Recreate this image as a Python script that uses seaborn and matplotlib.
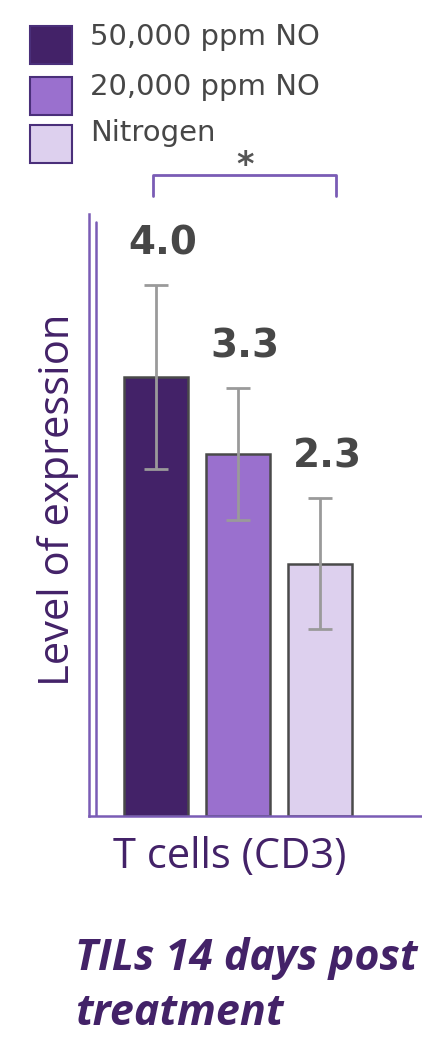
import matplotlib
matplotlib.use("Agg")
import matplotlib.pyplot as plt
from matplotlib.lines import Line2D
from matplotlib.patches import Rectangle
import seaborn as sns
import pandas as pd

# ---- data ----
groups = ["50,000 ppm NO", "20,000 ppm NO", "Nitrogen"]
category = ["T cells (CD3)"] * 3
values = [4.0, 3.3, 2.3]
errors = [0.84, 0.6, 0.6]
value_labels = ["4.0", "3.3", "2.3"]
colors = ["#432268", "#9a70ce", "#ddd0ee"]
title_text = "TILs 14 days post\ntreatment"
ylabel_text = "Level of expression"

df = pd.DataFrame({"cat": category, "group": groups, "value": values})

sns.set_style("white")
plt.rcParams["font.family"] = ["DejaVu Sans"]

W, H = 422, 1037
fig = plt.figure(figsize=(W / 100, H / 100), dpi=100)
ax = fig.add_axes([89 / W, (H - 816) / H, (W - 89) / W, (816 - 214) / H])

sns.barplot(data=df, x="cat", y="value", hue="group", hue_order=groups,
            palette=colors, saturation=1, errorbar=None, gap=0.23,
            edgecolor="#4a4a4a", linewidth=1.8, legend=False, ax=ax)

px_per_unit = 307.5
ax.set_xlim((89 - 238) / px_per_unit, (422 - 238) / px_per_unit)
ax.set_ylim(0, (816 - 214) / 109.75)

bars = sorted(ax.patches, key=lambda p: p.get_x())
for b, v, e, lab in zip(bars, values, errors, value_labels):
    cx = b.get_x() + b.get_width() / 2
    ax.errorbar(cx, v, yerr=e, fmt="none", ecolor="#9a9a9a", elinewidth=2,
                capsize=8.5, capthick=2, zorder=5)
    ax.annotate(lab, (cx, v + e), xytext=(5, 16), textcoords="offset points",
                ha="center", va="bottom", fontsize=28, fontweight="bold",
                color="#474747")

purple_line = "#7a5cb5"
for s in ["top", "right"]:
    ax.spines[s].set_visible(False)
for s in ["left", "bottom"]:
    ax.spines[s].set_color(purple_line)
    ax.spines[s].set_linewidth(1.8)
ax.axvline((96 - 238) / px_per_unit, ymin=0, ymax=(816 - 222) / (816 - 214),
           color=purple_line, lw=1.8)
ax.set_yticks([])
ax.set_xticks([])
ax.set_xlabel("")
ax.set_ylabel("")

# category label
fig.text(230 / W, 1 - 857 / H, category[0], ha="center", va="center",
         fontsize=30, color="#432268", family=["Open Sans", "DejaVu Sans"])
# y label
fig.text(58 / W, 1 - 500 / H, ylabel_text, ha="center", va="center",
         rotation=90, fontsize=30, color="#432268",
         family=["Open Sans", "DejaVu Sans"])

# legend (manual)
leg_y = [45, 96, 144]
text_y = [37, 87, 133]
for c, g, yy, ty in zip(colors, groups, leg_y, text_y):
    fig.add_artist(Rectangle((30 / W, 1 - (yy + 19) / H), 42 / W, 38 / H,
                             transform=fig.transFigure, facecolor=c,
                             edgecolor="#4a2f7a", lw=1.5))
    fig.text(90 / W, 1 - ty / H, g, ha="left", va="center",
             fontsize=21, color="#474747")

# significance bracket
bx0, bx1, byt, byb = 153, 336, 175, 196
fig.add_artist(Line2D([bx0 / W, bx0 / W, bx1 / W, bx1 / W],
                      [1 - byb / H, 1 - byt / H, 1 - byt / H, 1 - byb / H],
                      transform=fig.transFigure, color=purple_line, lw=2))
fig.text(245 / W, 1 - 165 / H, "*", ha="center", va="center", fontsize=24,
         fontweight="bold", color="#555555")

# bottom title
fig.text(75 / W, 1 - 986 / H, title_text, ha="left", va="center",
         fontsize=31, fontweight="bold", fontstyle="italic", color="#432268",
         linespacing=1.35, family=["Open Sans", "DejaVu Sans"])

fig.savefig("out.png", dpi=100)
